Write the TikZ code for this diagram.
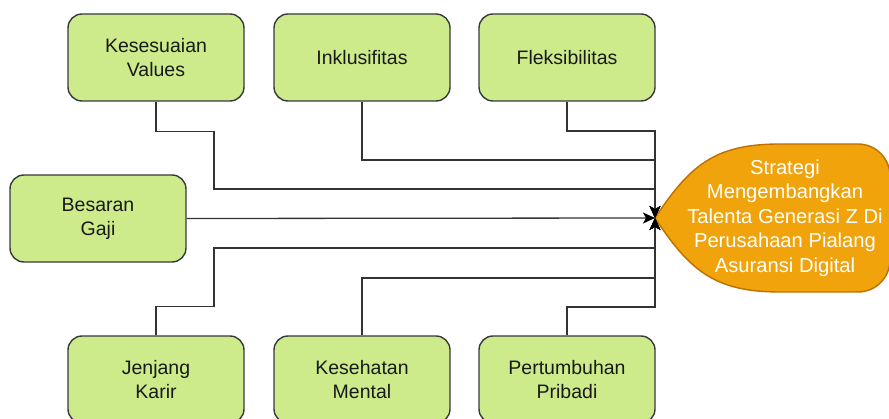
\documentclass[tikz,border=0pt]{standalone}
\usepackage{fontspec}
\setmainfont{Liberation Sans}
\usetikzlibrary{calc}
\usetikzlibrary{arrows.meta}

\definecolor{factorfill}{HTML}{CDEB8B}
\definecolor{factorline}{HTML}{36393D}
\definecolor{headfill}{HTML}{F0A30A}
\definecolor{headline}{HTML}{BD7000}
\definecolor{linkcol}{HTML}{333333}

\begin{document}
\begin{tikzpicture}[x=1pt, y=-1pt,
  factor/.style={draw=factorline, fill=factorfill, line width=1.4pt,
    rounded corners=14pt, minimum width=176pt, minimum height=87pt,
    align=center, text=black!90, font=\fontsize{19.5}{24}\selectfont},
  headtext/.style={align=center, text=white, font=\fontsize{20.2}{24.5}\selectfont},
  link/.style={draw=linkcol, line width=1.3pt, -{Stealth[length=12pt, width=11pt, inset=3pt, color=black]}}]

  % frame of the picture
  \useasboundingbox (0,0) rectangle (889,419);
  \clip (0,0) rectangle (889,419);

  % Head of the fish
  \coordinate (tip) at (655,218);
  \draw[fill=headfill, draw=headline, line width=1.4pt]
    (tip) .. controls (690,165) and (715,144) .. (780,144) -- (858,144)
    arc[start angle=-90, end angle=0, radius=32] -- (890,260)
    arc[start angle=0, end angle=90, radius=32] -- (780,292)
    .. controls (715,292) and (690,271) .. (tip) -- cycle;
  \node[headtext] (strategi) at (785,218)
    {Strategi\\Mengembangkan\\Talenta Generasi Z Di\\Perusahaan Pialang\\Asuransi Digital};

  % Factors above
  \node[factor] (kesesuaian) at (156,57.5) {Kesesuaian\\Values};
  \node[factor] (inklusifitas) at (362,57.5) {Inklusifitas};
  \node[factor] (fleksibilitas) at (567,57.5) {Fleksibilitas};

  % Factor on the left
  \node[factor] (gaji) at (98,218.5) {Besaran\\Gaji};

  % Factors below
  \node[factor] (jenjang) at (156,379.5) {Jenjang\\Karir};
  \node[factor] (kesehatan) at (362,379.5) {Kesehatan\\Mental};
  \node[factor] (pertumbuhan) at (567,379.5) {Pertumbuhan\\Pribadi};

  % Bones to the head
  \draw[link] (kesesuaian.south) |- ++(58,30) |- ($(tip)+(0,-29)$) -- (tip);
  \draw[link] (inklusifitas.south) |- ($(tip)+(0,-58)$) -- (tip);
  \draw[link] (fleksibilitas.south) |- ($(tip)+(0,-87)$) -- (tip);
  \draw[link] (gaji.east) -- (tip);
  \draw[link] (jenjang.north) |- ++(58,-29) |- ($(tip)+(0,30)$) -- (tip);
  \draw[link] (kesehatan.north) |- ($(tip)+(0,60)$) -- (tip);
  \draw[link] (pertumbuhan.north) |- ($(tip)+(0,89)$) -- (tip);

\end{tikzpicture}
\end{document}
